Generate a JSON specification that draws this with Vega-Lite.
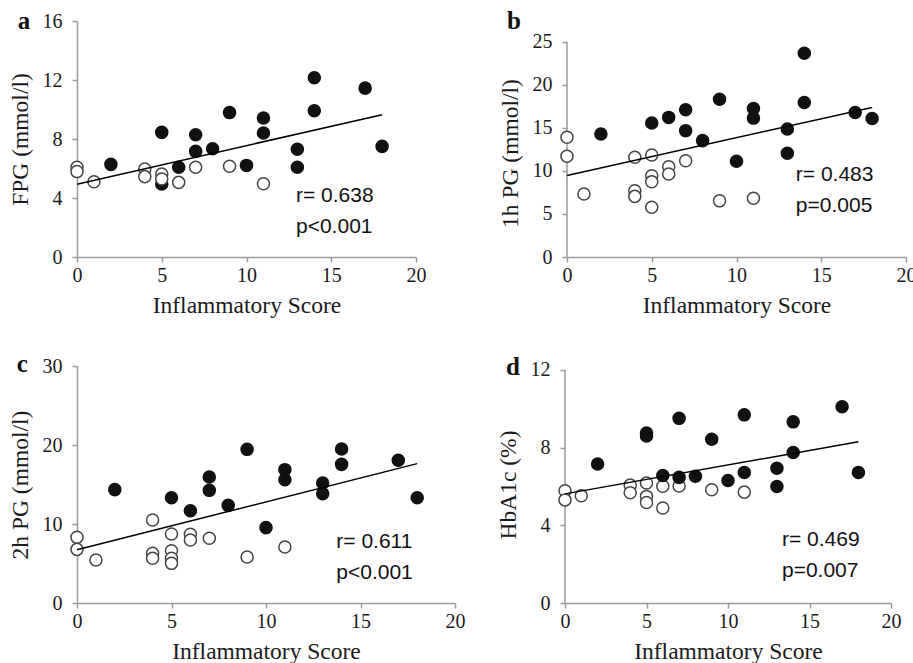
{
  "$schema": "https://vega.github.io/schema/vega-lite/v6.json",
  "padding": {"left": 8, "top": 9, "right": 0, "bottom": 0},
  "background": "white",
  "config": {
    "view": {"stroke": null},
    "axis": {
      "labelFont": "Liberation Serif", "labelFontSize": 20, "labelColor": "#1a1a1a",
      "titleFont": "Liberation Serif", "titleFontSize": 23.5, "titleFontWeight": "normal", "titleColor": "#1a1a1a",
      "domainColor": "#9a9a9a", "tickColor": "#9a9a9a", "domainWidth": 1.5, "tickWidth": 1.5, "tickSize": 5,
      "grid": false, "labelFlush": false, "labelOverlap": false
    },
    "axisX": {"labelPadding": 3, "titlePadding": 8, "labelAngle": 0},
    "axisY": {"labelPadding": 10, "titlePadding": 10}
  },
  "datasets": {
    "a": [
      {"score": 2, "value": 6.28, "group": "filled"},
      {"score": 5, "value": 8.45, "group": "filled"},
      {"score": 5, "value": 4.95, "group": "filled"},
      {"score": 6, "value": 6.08, "group": "filled"},
      {"score": 7, "value": 8.29, "group": "filled"},
      {"score": 7, "value": 7.16, "group": "filled"},
      {"score": 8, "value": 7.34, "group": "filled"},
      {"score": 9, "value": 9.79, "group": "filled"},
      {"score": 10, "value": 6.21, "group": "filled"},
      {"score": 11, "value": 9.42, "group": "filled"},
      {"score": 11, "value": 8.41, "group": "filled"},
      {"score": 13, "value": 7.3, "group": "filled"},
      {"score": 13, "value": 6.08, "group": "filled"},
      {"score": 14, "value": 12.15, "group": "filled"},
      {"score": 14, "value": 9.92, "group": "filled"},
      {"score": 17, "value": 11.45, "group": "filled"},
      {"score": 18, "value": 7.5, "group": "filled"},
      {"score": 0, "value": 6.08, "group": "open"},
      {"score": 0, "value": 5.79, "group": "open"},
      {"score": 1, "value": 5.1, "group": "open"},
      {"score": 4, "value": 5.97, "group": "open"},
      {"score": 4, "value": 5.45, "group": "open"},
      {"score": 5, "value": 5.63, "group": "open"},
      {"score": 5, "value": 5.29, "group": "open"},
      {"score": 6, "value": 5.06, "group": "open"},
      {"score": 7, "value": 6.08, "group": "open"},
      {"score": 9, "value": 6.15, "group": "open"},
      {"score": 11, "value": 4.97, "group": "open"}
    ],
    "b": [
      {"score": 2, "value": 14.3, "group": "filled"},
      {"score": 5, "value": 15.58, "group": "filled"},
      {"score": 6, "value": 16.23, "group": "filled"},
      {"score": 7, "value": 17.12, "group": "filled"},
      {"score": 7, "value": 14.69, "group": "filled"},
      {"score": 8, "value": 13.53, "group": "filled"},
      {"score": 9, "value": 18.35, "group": "filled"},
      {"score": 10, "value": 11.13, "group": "filled"},
      {"score": 11, "value": 17.27, "group": "filled"},
      {"score": 11, "value": 16.15, "group": "filled"},
      {"score": 13, "value": 14.88, "group": "filled"},
      {"score": 13, "value": 12.06, "group": "filled"},
      {"score": 14, "value": 23.69, "group": "filled"},
      {"score": 14, "value": 17.97, "group": "filled"},
      {"score": 17, "value": 16.81, "group": "filled"},
      {"score": 18, "value": 16.11, "group": "filled"},
      {"score": 0, "value": 13.92, "group": "open"},
      {"score": 0, "value": 11.71, "group": "open"},
      {"score": 1, "value": 7.33, "group": "open"},
      {"score": 4, "value": 11.59, "group": "open"},
      {"score": 4, "value": 7.71, "group": "open"},
      {"score": 4, "value": 7.05, "group": "open"},
      {"score": 5, "value": 11.86, "group": "open"},
      {"score": 5, "value": 9.45, "group": "open"},
      {"score": 5, "value": 8.76, "group": "open"},
      {"score": 5, "value": 5.78, "group": "open"},
      {"score": 6, "value": 10.5, "group": "open"},
      {"score": 6, "value": 9.65, "group": "open"},
      {"score": 7, "value": 11.2, "group": "open"},
      {"score": 9, "value": 6.53, "group": "open"},
      {"score": 11, "value": 6.84, "group": "open"}
    ],
    "c": [
      {"score": 2, "value": 14.35, "group": "filled"},
      {"score": 5, "value": 13.33, "group": "filled"},
      {"score": 6, "value": 11.68, "group": "filled"},
      {"score": 7, "value": 15.95, "group": "filled"},
      {"score": 7, "value": 14.26, "group": "filled"},
      {"score": 8, "value": 12.36, "group": "filled"},
      {"score": 9, "value": 19.45, "group": "filled"},
      {"score": 10, "value": 9.54, "group": "filled"},
      {"score": 11, "value": 16.88, "group": "filled"},
      {"score": 11, "value": 15.61, "group": "filled"},
      {"score": 13, "value": 15.19, "group": "filled"},
      {"score": 13, "value": 13.84, "group": "filled"},
      {"score": 14, "value": 19.49, "group": "filled"},
      {"score": 14, "value": 17.55, "group": "filled"},
      {"score": 17, "value": 18.06, "group": "filled"},
      {"score": 18, "value": 13.33, "group": "filled"},
      {"score": 0, "value": 8.31, "group": "open"},
      {"score": 0, "value": 6.79, "group": "open"},
      {"score": 1, "value": 5.44, "group": "open"},
      {"score": 4, "value": 10.5, "group": "open"},
      {"score": 4, "value": 6.29, "group": "open"},
      {"score": 4, "value": 5.66, "group": "open"},
      {"score": 5, "value": 8.73, "group": "open"},
      {"score": 5, "value": 6.62, "group": "open"},
      {"score": 5, "value": 5.66, "group": "open"},
      {"score": 5, "value": 5.02, "group": "open"},
      {"score": 6, "value": 8.69, "group": "open"},
      {"score": 6, "value": 7.97, "group": "open"},
      {"score": 7, "value": 8.19, "group": "open"},
      {"score": 9, "value": 5.82, "group": "open"},
      {"score": 11, "value": 7.09, "group": "open"}
    ],
    "d": [
      {"score": 0, "value": 5.78, "group": "open"},
      {"score": 0, "value": 5.31, "group": "open"},
      {"score": 1, "value": 5.52, "group": "open"},
      {"score": 4, "value": 6.07, "group": "open"},
      {"score": 4, "value": 5.68, "group": "open"},
      {"score": 5, "value": 6.18, "group": "open"},
      {"score": 5, "value": 5.49, "group": "open"},
      {"score": 5, "value": 5.18, "group": "open"},
      {"score": 6, "value": 6.01, "group": "open"},
      {"score": 6, "value": 4.89, "group": "open"},
      {"score": 7, "value": 6.03, "group": "open"},
      {"score": 9, "value": 5.83, "group": "open"},
      {"score": 11, "value": 5.71, "group": "open"},
      {"score": 2, "value": 7.16, "group": "filled"},
      {"score": 5, "value": 8.75, "group": "filled"},
      {"score": 5, "value": 8.6, "group": "filled"},
      {"score": 6, "value": 6.57, "group": "filled"},
      {"score": 7, "value": 9.51, "group": "filled"},
      {"score": 7, "value": 6.47, "group": "filled"},
      {"score": 8, "value": 6.53, "group": "filled"},
      {"score": 9, "value": 8.43, "group": "filled"},
      {"score": 10, "value": 6.31, "group": "filled"},
      {"score": 11, "value": 9.69, "group": "filled"},
      {"score": 11, "value": 6.72, "group": "filled"},
      {"score": 13, "value": 6.94, "group": "filled"},
      {"score": 13, "value": 6.0, "group": "filled"},
      {"score": 14, "value": 9.33, "group": "filled"},
      {"score": 14, "value": 7.75, "group": "filled"},
      {"score": 17, "value": 10.11, "group": "filled"},
      {"score": 18, "value": 6.72, "group": "filled"}
    ],
    "lineA": [{"score": 0, "value": 4.93}, {"score": 18, "value": 9.65}],
    "lineB": [{"score": 0, "value": 9.47}, {"score": 18, "value": 17.39}],
    "lineC": [{"score": 0, "value": 6.75}, {"score": 18, "value": 17.64}],
    "lineD": [{"score": 0, "value": 5.62}, {"score": 18, "value": 8.3}]
  },
  "spacing": 35,
  "vconcat": [
    {
      "spacing": 72,
      "hconcat": [
        {
          "width": 339, "height": 236,
          "layer": [
            {
              "data": {"name": "a"},
              "mark": {"type": "point", "filled": true, "size": 145, "strokeWidth": 1.5, "opacity": 1},
              "encoding": {
                "x": {"field": "score", "type": "quantitative", "scale": {"domain": [0, 20], "nice": false}, "axis": {"values": [0, 5, 10, 15, 20], "title": "Inflammatory Score"}},
                "y": {"field": "value", "type": "quantitative", "scale": {"domain": [0, 16], "nice": false}, "axis": {"values": [0, 4, 8, 12, 16], "title": "FPG (mmol/l)"}},
                "fill": {"field": "group", "type": "nominal", "scale": {"domain": ["filled", "open"], "range": ["#111111", "#ffffff"]}, "legend": null},
                "stroke": {"field": "group", "type": "nominal", "scale": {"domain": ["filled", "open"], "range": ["#111111", "#444444"]}, "legend": null}
              }
            },
            {
              "data": {"name": "lineA"},
              "mark": {"type": "line", "color": "#000000", "strokeWidth": 1.5},
              "encoding": {"x": {"field": "score", "type": "quantitative"}, "y": {"field": "value", "type": "quantitative"}}
            },
            {
              "data": {"values": [{}]},
              "mark": {"type": "text", "font": "Liberation Sans", "fontSize": 21, "align": "left", "baseline": "alphabetic", "lineHeight": 31, "color": "#111111"},
              "encoding": {"x": {"datum": 12.92}, "y": {"datum": 3.73}, "text": {"value": ["r= 0.638", "p<0.001"]}}
            },
            {
              "data": {"values": [{}]},
              "mark": {"type": "text", "font": "Liberation Serif", "fontWeight": "bold", "fontSize": 25, "align": "center", "baseline": "alphabetic", "color": "#111111"},
              "encoding": {"x": {"datum": -3.13}, "y": {"datum": 15.45}, "text": {"value": "a"}}
            }
          ]
        },
        {
          "width": 339, "height": 236,
          "layer": [
            {
              "data": {"values": [{}]},
              "mark": {"type": "rule", "color": "#9a9a9a", "strokeWidth": 1.5},
              "encoding": {"x": {"datum": 0}, "y": {"datum": 0}, "y2": {"datum": 25}}
            },
            {
              "data": {"name": "b"},
              "mark": {"type": "point", "filled": true, "size": 145, "strokeWidth": 1.5, "opacity": 1},
              "encoding": {
                "x": {"field": "score", "type": "quantitative", "scale": {"domain": [0, 20], "nice": false}, "axis": {"values": [0, 5, 10, 15, 20], "title": "Inflammatory Score"}},
                "y": {"field": "value", "type": "quantitative", "scale": {"domain": [0, 27.44], "nice": false}, "axis": {"values": [0, 5, 10, 15, 20, 25], "title": "1h PG (mmol/l)", "domain": false, "titleY": 132}},
                "fill": {"field": "group", "type": "nominal", "scale": {"domain": ["filled", "open"], "range": ["#111111", "#ffffff"]}, "legend": null},
                "stroke": {"field": "group", "type": "nominal", "scale": {"domain": ["filled", "open"], "range": ["#111111", "#444444"]}, "legend": null}
              }
            },
            {
              "data": {"name": "lineB"},
              "mark": {"type": "line", "color": "#000000", "strokeWidth": 1.5},
              "encoding": {"x": {"field": "score", "type": "quantitative"}, "y": {"field": "value", "type": "quantitative"}}
            },
            {
              "data": {"values": [{}]},
              "mark": {"type": "text", "font": "Liberation Sans", "fontSize": 21, "align": "left", "baseline": "alphabetic", "lineHeight": 31, "color": "#111111"},
              "encoding": {"x": {"datum": 13.5}, "y": {"datum": 8.87}, "text": {"value": ["r= 0.483", "p=0.005"]}}
            },
            {
              "data": {"values": [{}]},
              "mark": {"type": "text", "font": "Liberation Serif", "fontWeight": "bold", "fontSize": 25, "align": "center", "baseline": "alphabetic", "color": "#111111"},
              "encoding": {"x": {"datum": -3.13}, "y": {"datum": 26.5}, "text": {"value": "b"}}
            }
          ]
        }
      ]
    },
    {
      "spacing": 31,
      "hconcat": [
        {
          "width": 378, "height": 237,
          "layer": [
            {
              "data": {"name": "c"},
              "mark": {"type": "point", "filled": true, "size": 145, "strokeWidth": 1.5, "opacity": 1},
              "encoding": {
                "x": {"field": "score", "type": "quantitative", "scale": {"domain": [0, 20], "nice": false}, "axis": {"values": [0, 5, 10, 15, 20], "title": "Inflammatory Score"}},
                "y": {"field": "value", "type": "quantitative", "scale": {"domain": [0, 30], "nice": false}, "axis": {"values": [0, 10, 20, 30], "title": "2h PG (mmol/l)"}},
                "fill": {"field": "group", "type": "nominal", "scale": {"domain": ["filled", "open"], "range": ["#111111", "#ffffff"]}, "legend": null},
                "stroke": {"field": "group", "type": "nominal", "scale": {"domain": ["filled", "open"], "range": ["#111111", "#444444"]}, "legend": null}
              }
            },
            {
              "data": {"name": "lineC"},
              "mark": {"type": "line", "color": "#000000", "strokeWidth": 1.5},
              "encoding": {"x": {"field": "score", "type": "quantitative"}, "y": {"field": "value", "type": "quantitative"}}
            },
            {
              "data": {"values": [{}]},
              "mark": {"type": "text", "font": "Liberation Sans", "fontSize": 21, "align": "left", "baseline": "alphabetic", "lineHeight": 31, "color": "#111111"},
              "encoding": {"x": {"datum": 13.72}, "y": {"datum": 7.0}, "text": {"value": ["r= 0.611", "p<0.001"]}}
            },
            {
              "data": {"values": [{}]},
              "mark": {"type": "text", "font": "Liberation Serif", "fontWeight": "bold", "fontSize": 25, "align": "center", "baseline": "alphabetic", "color": "#111111"},
              "encoding": {"x": {"datum": -2.9}, "y": {"datum": 29.2}, "text": {"value": "c"}}
            }
          ]
        },
        {
          "width": 326, "height": 237,
          "layer": [
            {
              "data": {"values": [{}]},
              "mark": {"type": "rule", "color": "#9a9a9a", "strokeWidth": 1.5},
              "encoding": {"x": {"datum": 0}, "y": {"datum": 0}, "y2": {"datum": 12}}
            },
            {
              "data": {"name": "d"},
              "mark": {"type": "point", "filled": true, "size": 145, "strokeWidth": 1.5, "opacity": 1},
              "encoding": {
                "x": {"field": "score", "type": "quantitative", "scale": {"domain": [0, 20], "nice": false}, "axis": {"values": [0, 5, 10, 15, 20], "title": "Inflammatory Score"}},
                "y": {"field": "value", "type": "quantitative", "scale": {"domain": [0, 12.206], "nice": false}, "axis": {"values": [0, 4, 8, 12], "title": "HbA1c (%)", "domain": false}},
                "fill": {"field": "group", "type": "nominal", "scale": {"domain": ["filled", "open"], "range": ["#111111", "#ffffff"]}, "legend": null},
                "stroke": {"field": "group", "type": "nominal", "scale": {"domain": ["filled", "open"], "range": ["#111111", "#444444"]}, "legend": null}
              }
            },
            {
              "data": {"name": "lineD"},
              "mark": {"type": "line", "color": "#000000", "strokeWidth": 1.5},
              "encoding": {"x": {"field": "score", "type": "quantitative"}, "y": {"field": "value", "type": "quantitative"}}
            },
            {
              "data": {"values": [{}]},
              "mark": {"type": "text", "font": "Liberation Sans", "fontSize": 21, "align": "left", "baseline": "alphabetic", "lineHeight": 31, "color": "#111111"},
              "encoding": {"x": {"datum": 13.31}, "y": {"datum": 2.94}, "text": {"value": ["r= 0.469", "p=0.007"]}}
            },
            {
              "data": {"values": [{}]},
              "mark": {"type": "text", "font": "Liberation Serif", "fontWeight": "bold", "fontSize": 25, "align": "center", "baseline": "alphabetic", "color": "#111111"},
              "encoding": {"x": {"datum": -3.2}, "y": {"datum": 11.75}, "text": {"value": "d"}}
            }
          ]
        }
      ]
    }
  ]
}
